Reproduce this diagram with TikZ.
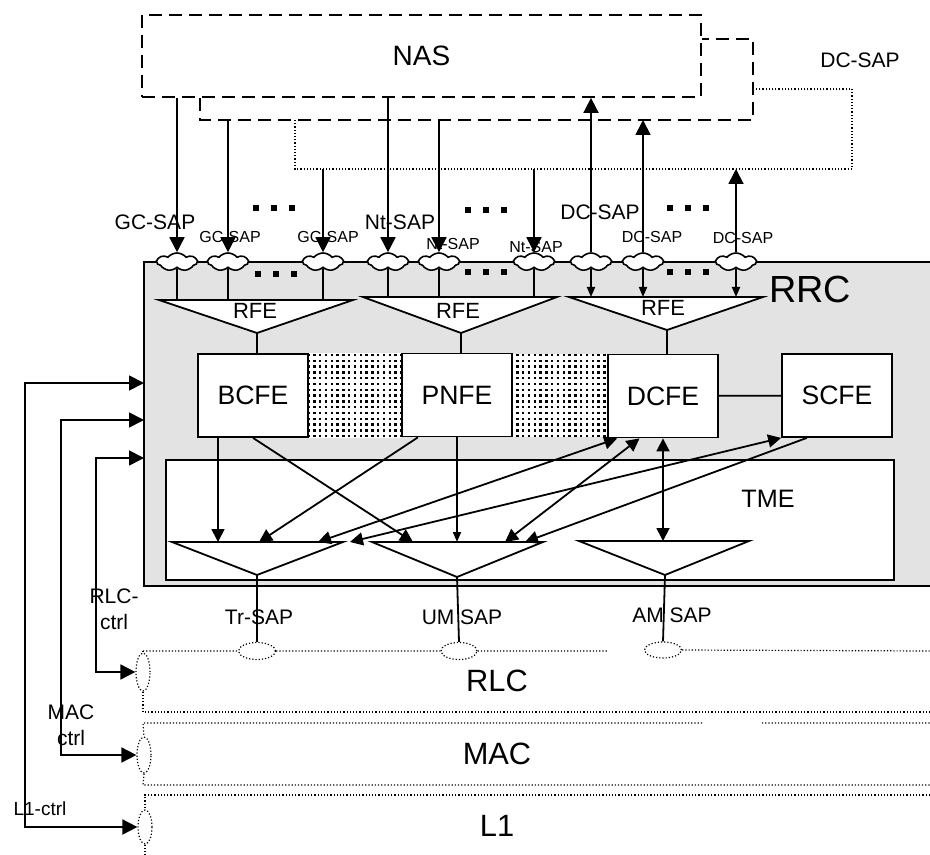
\documentclass[tikz,border=0pt]{standalone}
\usepackage{fontspec}
\setmainfont{Liberation Sans}
\usetikzlibrary{
    arrows.meta,
    positioning,
    calc,
    patterns,
    shapes.geometric,
    shapes.symbols
}
\definecolor{rrcgray}{RGB}{227,227,227}

% square dots between the entities
\pgfdeclarepatternformonly{fedots}
    {\pgfqpoint{-1pt}{-1pt}}{\pgfqpoint{2pt}{2pt}}{\pgfqpoint{2.9pt}{2.9pt}}
    {\pgfpathrectangle{\pgfqpoint{0pt}{0pt}}{\pgfqpoint{1.2pt}{1.2pt}}\pgfusepath{fill}}

\begin{document}
\begin{tikzpicture}[
    x=0.5pt,
    y=-0.5pt,
    line width=0.9pt,
    every node/.style={
        font=\fontsize{10.5pt}{13pt}\selectfont,
        inner sep=0pt
    },
    sap/.style={
        cloud,
        cloud puffs=7,
        cloud puff arc=100,
        aspect=2.6,
        draw,
        fill=white,
        minimum width=20pt,
        minimum height=9pt,
        line width=0.8pt
    },
    lowsap/.style={
        ellipse,
        draw,
        densely dotted,
        line width=0.6pt
    },
    fe/.style={
        draw,
        fill=white,
        minimum width=55pt,
        minimum height=41.5pt,
        font=\fontsize{13.3pt}{15pt}\selectfont
    },
    smalllabel/.style={font=\fontsize{8pt}{9pt}\selectfont},
    rfelabel/.style={font=\fontsize{11pt}{12pt}\selectfont},
    layerlabel/.style={font=\fontsize{15.4pt}{17pt}\selectfont},
    nasdash/.style={dash pattern=on 6.5pt off 3.5pt},
    layerline/.style={densely dotted, line width=0.6pt},
    bigtip/.style={-{Triangle[width=7.5pt,length=7.5pt]}},
    smalltip/.style={-{Triangle[width=4pt,length=5pt]}},
    midtip/.style={-{Triangle[width=6.5pt,length=6.5pt]}},
    twotip/.style={
        {Triangle[width=6.5pt,length=6.5pt]}-{Triangle[width=6.5pt,length=6.5pt]}
    },
    ctrltip/.style={
        {Triangle[width=7.5pt,length=7.5pt]}-{Triangle[width=7.5pt,length=7.5pt]}
    }
]

    \useasboundingbox (0,0) rectangle (930,855);

    % NAS and the boxes behind it
    \node[
        draw,
        nasdash,
        minimum width=279.5pt,
        minimum height=41pt,
        font=\fontsize{14pt}{16pt}\selectfont
    ] (nas) at (421.5,56) {NAS};

    \coordinate (back-bl) at (200,120);
    \coordinate (back-br) at (753,120);
    \coordinate (back-tr) at (753,39);
    \draw[nasdash]
        (back-bl |- nas.south) -- (back-bl) -- (back-br)
        -- (back-tr) -- (back-tr -| nas.east);

    \coordinate (dot-bl) at (295,169);
    \coordinate (dot-br) at (852,169);
    \coordinate (dot-tr) at (852,89);
    \draw[layerline]
        (dot-bl |- back-bl) -- (dot-bl) -- (dot-br)
        -- (dot-tr) -- (dot-tr -| back-br);

    \node (dctop) at (860,60) {DC-SAP};

    % RRC
    \coordinate (rrc-nw) at (144,262);
    \coordinate (rrc-se) at (930,586);
    \fill[rrcgray] (rrc-nw) rectangle (rrc-se);
    \draw
        (rrc-se |- rrc-nw) -- (rrc-nw)
        -- (rrc-nw |- rrc-se) -- (rrc-se);
    \node[font=\fontsize{18.9pt}{20pt}\selectfont] (rrc) at (810,289) {RRC};

    % SAPs on top of RRC
    \node[sap] (gc1) at (177,262) {};
    \node[sap] (gc2) at (228,262) {};
    \node[sap] (gc3) at (323,262) {};
    \node[sap] (nt1) at (388,262) {};
    \node[sap] (nt2) at (439,262) {};
    \node[sap] (nt3) at (534,262) {};
    \node[sap] (dc1) at (591,262) {};
    \node[sap] (dc2) at (643,262) {};
    \node[sap] (dc3) at (736,262) {};

    \node (gclabel) at (155,222) {GC-SAP};
    \node[smalllabel] (gclabel2) at (230,237) {GC-SAP};
    \node[smalllabel] (gclabel3) at (328,237) {GC-SAP};
    \node (ntlabel) at (400,222) {Nt-SAP};
    \node[smalllabel] (ntlabel2) at (453,244) {Nt-SAP};
    \node[smalllabel] (ntlabel3) at (536,247) {Nt-SAP};
    \node (dclabel) at (600,212) {DC-SAP};
    \node[smalllabel] (dclabel2) at (652,237) {DC-SAP};
    \node[smalllabel] (dclabel3) at (743,238) {DC-SAP};

    % ellipsis marks
    \foreach \cx/\cy in {274/208, 486/210, 688/208, 276/274, 486/272, 688/272} {
        \foreach \dx in {-18,0,18} {
            \fill (\cx+\dx-3,\cy-3) rectangle ++(6,6);
        }
    }

    % NAS <-> SAPs
    \draw[bigtip] (gc1 |- nas.south) -- (gc1.north);
    \draw[bigtip] (gc2 |- back-bl) -- (gc2.north);
    \draw[bigtip] (gc3 |- dot-bl) -- (gc3.north);
    \draw[bigtip] (nt1 |- nas.south) -- (nt1.north);
    \draw[bigtip] (nt2 |- back-bl) -- (nt2.north);
    \draw[bigtip] (nt3 |- dot-bl) -- (nt3.north);
    \draw[bigtip] (dc1.north) -- (dc1 |- nas.south);
    \draw[bigtip] (dc2.north) -- (dc2 |- back-bl);
    \draw[bigtip] (dc3.north) -- (dc3 |- dot-bl);

    % RFE triangles
    \coordinate (rfeg-l) at (159,300);
    \coordinate (rfeg-r) at (353,300);
    \coordinate (rfeg-a) at (257,333);
    \coordinate (rfen-l) at (363,297);
    \coordinate (rfen-r) at (557,297);
    \coordinate (rfen-a) at (461,333);
    \coordinate (rfed-l) at (569,297);
    \coordinate (rfed-r) at (763,297);
    \coordinate (rfed-a) at (667,330);
    \draw[fill=white] (rfeg-l) -- (rfeg-r) -- (rfeg-a) -- cycle;
    \draw[fill=white] (rfen-l) -- (rfen-r) -- (rfen-a) -- cycle;
    \draw[fill=white] (rfed-l) -- (rfed-r) -- (rfed-a) -- cycle;
    \node[rfelabel] (rfeg) at (255,311) {RFE};
    \node[rfelabel] (rfen) at (458,311) {RFE};
    \node[rfelabel] (rfed) at (663,308) {RFE};

    \draw (gc1.south) -- (gc1 |- rfeg-l);
    \draw (gc2.south) -- (gc2 |- rfeg-l);
    \draw (gc3.south) -- (gc3 |- rfeg-l);
    \draw (nt1.south) -- (nt1 |- rfen-l);
    \draw (nt2.south) -- (nt2 |- rfen-l);
    \draw (nt3.south) -- (nt3 |- rfen-l);
    \draw[smalltip] (dc1.south) -- (dc1 |- rfed-l);
    \draw[smalltip] (dc2.south) -- (dc2 |- rfed-l);
    \draw[smalltip] (dc3.south) -- (dc3 |- rfed-l);

    % functional entities
    \node[fe] (bcfe) at (253,395.5) {BCFE};
    \node[fe] (pnfe) at (457,395) {PNFE};
    \node[fe] (dcfe) at (663,396) {DCFE};
    \node[fe] (scfe) at (837,395.5) {SCFE};

    \fill[white] (bcfe.south east) rectangle (pnfe.north west);
    \fill[pattern=fedots] (bcfe.south east) rectangle (pnfe.north west);
    \fill[white] (pnfe.south east) rectangle (dcfe.north west);
    \fill[pattern=fedots] (pnfe.south east) rectangle (dcfe.north west);

    \draw (rfeg-a) -- (rfeg-a |- bcfe.north);
    \draw (rfen-a) -- (rfen-a |- pnfe.north);
    \draw (rfed-a) -- (rfed-a |- dcfe.north);
    \draw (dcfe) -- (scfe);

    % TME
    \node[
        draw,
        fill=white,
        minimum width=364pt,
        minimum height=60pt
    ] (tme) at (530,520) {};
    \node[font=\fontsize{12.6pt}{14pt}\selectfont] (tmelabel) at (768,499) {TME};

    \coordinate (tr-l) at (172,542);
    \coordinate (tr-r) at (343,542);
    \coordinate (tr-a) at (257,575);
    \coordinate (um-l) at (372,542);
    \coordinate (um-r) at (543,542);
    \coordinate (um-a) at (457,577);
    \coordinate (am-l) at (579,541);
    \coordinate (am-r) at (749,541);
    \coordinate (am-a) at (665,575);
    \draw (tr-l) -- (tr-r) -- (tr-a) -- cycle;
    \draw (um-l) -- (um-r) -- (um-a) -- cycle;
    \draw (am-l) -- (am-r) -- (am-a) -- cycle;

    \coordinate (tr-in1) at (218,542);
    \coordinate (tr-in2) at (259,542);
    \coordinate (tr-in3) at (318,542);
    \coordinate (tr-in4) at (350,542);
    \coordinate (um-in1) at (413,542);
    \coordinate (um-in3) at (505,542);
    \coordinate (um-in4) at (525,542);

    \draw[midtip] (bcfe.south -| tr-in1) -- (tr-in1);
    \draw[midtip] (bcfe.south) -- (um-in1);
    \draw[midtip] ($(pnfe.south west)!0.15!(pnfe.south east)$) -- (tr-in2);
    \draw[smalltip] (pnfe.south) -- (pnfe.south |- um-l);
    \draw[twotip] (tr-in3) -- ($(dcfe.south west)!0.09!(dcfe.south east)$);
    \draw[twotip] (tr-in4) -- (scfe.south west);
    \draw[twotip] (um-in3) -- ($(dcfe.south west)!0.29!(dcfe.south east)$);
    \draw[midtip] ($(scfe.south west)!0.23!(scfe.south east)$) -- (um-in4);
    \draw[twotip] (dcfe.south) -- (dcfe.south |- am-l);

    % lower layers
    \node[lowsap, minimum width=18.5pt, minimum height=8.5pt] (trsap) at (257,651) {};
    \node[lowsap, minimum width=18pt, minimum height=8.5pt] (umsap) at (459,651) {};
    \node[lowsap, minimum width=18.5pt, minimum height=8pt] (amsap) at (663,650) {};
    \node[lowsap, minimum width=7pt, minimum height=19pt] (rlcsap) at (143,672) {};
    \node[lowsap, minimum width=7pt, minimum height=18pt] (macsap) at (144,755) {};
    \node[lowsap, minimum width=7pt, minimum height=17pt] (l1sap) at (145,827) {};

    \draw (tr-a) -- (trsap.north);
    \draw (um-a) -- (umsap.north);
    \draw (am-a) -- (amsap.north);

    \node (trlabel) at (259,617) {Tr-SAP};
    \node (umlabel) at (462,617) {UM SAP};
    \node (amlabel) at (672,615) {AM SAP};

    \coordinate (rlc-nw) at (143,651);
    \coordinate (rlc-gap) at (608,651);
    \coordinate (rlc-ne) at (930,651);
    \coordinate (rlc-sw) at (143,712);
    \coordinate (rlc-se) at (930,712);
    \draw[layerline]
        (rlc-nw) -- (trsap.west)
        (trsap.east) -- (umsap.west)
        (umsap.east) -- (rlc-gap)
        (amsap.east) -- (rlc-ne);
    \draw[layerline]
        (rlc-nw) -- (rlcsap.north)
        (rlcsap.south) -- (rlc-sw) -- (rlc-se);

    \coordinate (mac-nw) at (143,723);
    \coordinate (mac-gap1) at (702,723);
    \coordinate (mac-gap2) at (762,723);
    \coordinate (mac-ne) at (930,723);
    \coordinate (mac-sw) at (143,785);
    \coordinate (mac-se) at (930,785);
    \draw[layerline]
        (mac-gap2) -- (mac-ne)
        (mac-gap1) -- (mac-nw) -- (macsap.north)
        (macsap.south) -- (mac-sw) -- (mac-se);

    \coordinate (l1-nw) at (145,795);
    \coordinate (l1-ne) at (930,795);
    \coordinate (l1-s) at (145,855);
    \draw[layerline]
        (l1-ne) -- (l1-nw) -- (l1sap.north)
        (l1sap.south) -- (l1-s);

    \node[layerlabel] (rlc) at (497,681) {RLC};
    \node[layerlabel] (mac) at (497,754) {MAC};
    \node[layerlabel] (l1) at (497,826) {L1};

    % control paths
    \coordinate (rrc-l1) at (144,383);
    \coordinate (rrc-mac) at (144,420);
    \coordinate (rrc-rlc) at (144,458);
    \coordinate (l1-turn) at (25,827);
    \coordinate (mac-turn) at (61,755);
    \coordinate (rlc-turn) at (96,672);
    \draw[ctrltip] (rrc-l1) -| (l1-turn) -- (l1sap.west);
    \draw[ctrltip] (rrc-mac) -| (mac-turn) -- (macsap.west);
    \draw[ctrltip] (rrc-rlc) -| (rlc-turn) -- (rlcsap.west);

    \node[align=center] (rlcctrl) at (114,609) {RLC-\\ctrl};
    \node[align=center] (macctrl) at (71,725) {MAC\\ctrl};
    \node[font=\fontsize{9.5pt}{11pt}\selectfont] (l1ctrl) at (40,809) {L1-ctrl};

\end{tikzpicture}
\end{document}
